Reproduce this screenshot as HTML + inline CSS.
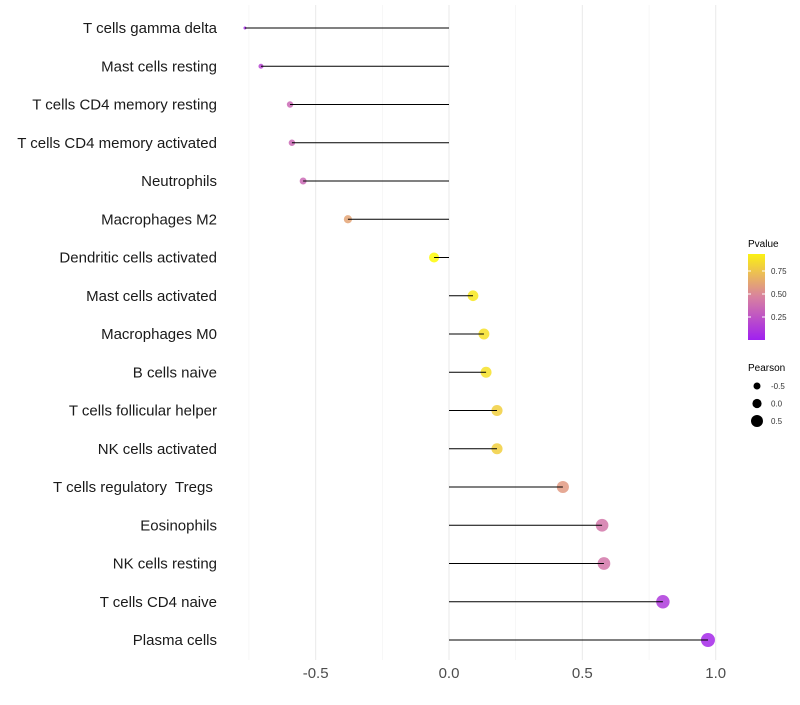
<!DOCTYPE html>
<html><head><meta charset="utf-8"><style>
body{margin:0;background:#fff;font-family:"Liberation Sans",sans-serif}
text{white-space:pre}
</style></head><body>
<svg id="chart" width="800" height="700" xmlns="http://www.w3.org/2000/svg"></svg>
<script>
const categories=["T cells gamma delta","Mast cells resting","T cells CD4 memory resting","T cells CD4 memory activated","Neutrophils","Macrophages M2","Dendritic cells activated","Mast cells activated","Macrophages M0","B cells naive","T cells follicular helper","NK cells activated","T cells regulatory  Tregs ","Eosinophils","NK cells resting","T cells CD4 naive","Plasma cells"];
const pearson=[-0.765,-0.705,-0.596,-0.589,-0.547,-0.379,-0.056,0.09,0.131,0.139,0.18,0.18,0.427,0.574,0.581,0.802,0.971];
const pvalue=[0.05,0.18,0.35,0.35,0.35,0.62,0.98,0.9,0.87,0.87,0.8,0.8,0.58,0.42,0.42,0.12,0.04];
const xTicks=[-0.5,0,0.5,1.0];
const xTickLabels=["-0.5","0.0","0.5","1.0"];
const pTicks=[0.25,0.5,0.75];
const sizeLegend=[-0.5,0,0.5];

const svg=document.getElementById('chart');
const NS="http://www.w3.org/2000/svg";
function mk(tag,attrs,parent){const e=document.createElementNS(NS,tag);for(const k in attrs)e.setAttribute(k,attrs[k]);(parent||svg).appendChild(e);return e;}
const xS=v=>449+v*266.7;
const yS=i=>28+i*38.25;
const rS=v=>1.5+5.5*Math.sqrt(Math.max(0,(v+0.765)/1.735));
function col(p){
  const a=[160,32,240],m=[220,135,155],b=[255,255,0];
  let c;
  if(p<0.5){const t=p/0.5;c=a.map((v,i)=>v+(m[i]-v)*t);}else{const t=(p-0.5)/0.5;c=m.map((v,i)=>v+(b[i]-v)*t);}
  return `rgb(${c.map(Math.round).join(',')})`;
}
[-0.75,-0.25,0.25,0.75].forEach(v=>{const g=mk('line',{x1:xS(v),x2:xS(v),y1:5,y2:660,stroke:'#f2f2f2','stroke-width':0.6});

});
xTicks.forEach((v,i)=>{const g=mk('line',{x1:xS(v),x2:xS(v),y1:5,y2:660,stroke:'#ebebeb','stroke-width':1.1});


const t=mk('text',{x:xS(v),y:678,'text-anchor':'middle','font-size':15,fill:'#4d4d4d'});t.textContent=xTickLabels[i];

});
categories.forEach((c,i)=>{
  const y=yS(i);
  const t=mk('text',{x:217,y:y+5,'text-anchor':'end','font-size':15,fill:'#1a1a1a'});t.textContent=c;
  
  
  const p=mk('circle',{cx:xS(pearson[i]),cy:y,r:rS(pearson[i]),fill:col(pvalue[i]),'fill-opacity':0.85});
  
  
  const l=mk('line',{x1:xS(0),x2:xS(pearson[i]),y1:y,y2:y,stroke:'#000','stroke-width':1});
  
  
});
const lt=mk('text',{x:748,y:247,'font-size':10,fill:'#000'});lt.textContent='Pvalue';


const defs=mk('defs',{});const gr=mk('linearGradient',{id:'pg',x1:0,y1:1,x2:0,y2:0},defs);
[0,0.25,0.5,0.75,1].forEach(s=>mk('stop',{offset:s,'stop-color':col(s*0.94)},gr));
const bar=mk('rect',{x:748,y:254,width:17,height:86,fill:'url(#pg)'});


pTicks.forEach(v=>{const y=340-v*92;mk('line',{x1:748,x2:751,y1:y,y2:y,stroke:'#fff'});mk('line',{x1:762,x2:765,y1:y,y2:y,stroke:'#fff'});
const t=mk('text',{x:771,y:y+3,'font-size':8,fill:'#333'});t.textContent=v.toFixed(2);

});
const st=mk('text',{x:748,y:371,'font-size':10,fill:'#000'});st.textContent='Pearson';


sizeLegend.forEach((v,i)=>{const y=386+i*17.5;const c=mk('circle',{cx:757,cy:y,r:[3.5,4.6,6][i],fill:'#000'});


const t=mk('text',{x:771,y:y+3,'font-size':8,fill:'#333'});t.textContent=v===0?'0.0':String(v);

});
</script>
</body></html>
